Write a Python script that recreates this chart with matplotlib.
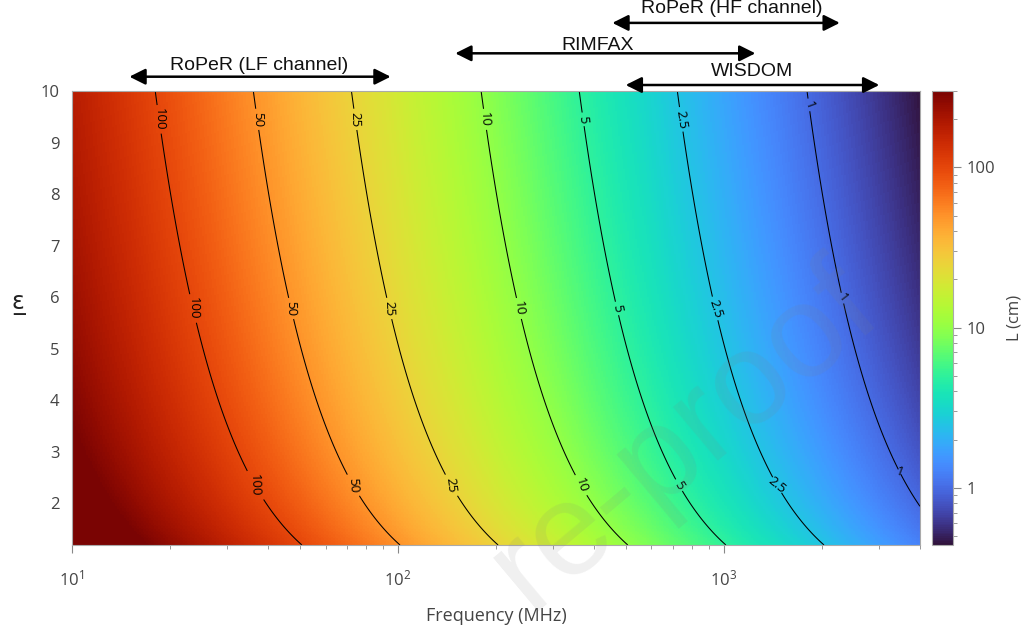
import numpy as np
import matplotlib
matplotlib.use('Agg')
import matplotlib.pyplot as plt
from matplotlib import colors, ticker
from matplotlib.transforms import blended_transform_factory

eps_read = [1.19, 2.31, 4.0, 5.75, 10.0]
f_L100 = [50.8, 36.9, 27.9, 23.5, 18.1]

levels = [1, 2.5, 5, 10, 25, 50, 100]

f_min, f_max = 10, 4000
eps_min, eps_max = 1.19, 10

instruments = ['RoPeR (LF channel)', 'RIMFAX', 'RoPeR (HF channel)', 'WISDOM']
band_lo = [15, 150, 455, 500]
band_hi = [95, 1250, 2270, 3000]
label_f = [37.6, 409, 1056, 1222]

plt.rcParams['font.family'] = ['Open Sans', 'DejaVu Sans']
plt.rcParams['mathtext.default'] = 'regular'
tcol = '#444444'

fig = plt.figure(figsize=(10.29, 6.34), dpi=100)
ax = fig.add_axes([72/1029, 89/634, 848/1029, 454/634])
cax = fig.add_axes([932/1029, 89/634, 21/1029, 454/634])

# L scales as 1/f; eps dependence from a power-law fit of the read points
fit = np.polyfit(np.log(eps_read), np.log(f_L100), 1)
f = np.logspace(np.log10(f_min), np.log10(f_max), 500)
eps = np.linspace(eps_min, eps_max, 300)
F, E = np.meshgrid(f, eps)
L = 100 * np.exp(np.polyval(fit, np.log(E))) / F

norm = colors.LogNorm(vmin=0.44, vmax=300)
mesh = ax.pcolormesh(F, E, L, cmap='turbo', norm=norm, shading='auto', rasterized=True)
cs = ax.contour(F, E, L, levels=levels, colors='black', linewidths=0.75)

k = lambda e: 100 * np.exp(np.polyval(fit, np.log(e)))
pos = []
for lev in levels:
    rows = [9.73, 5.98, 2.61] if lev == 1 else [9.45, 5.78, 2.35]
    for e in rows:
        pos.append((k(e) / lev, e))
ax.clabel(cs, fmt='%g', fontsize=9.5, manual=pos, inline=True, inline_spacing=3)

ax.set_xscale('log')
ax.set_xlim(f_min, f_max)
ax.set_ylim(eps_min, eps_max)
ax.set_yticks(range(2, 11))
ax.tick_params(axis='x', which='major', length=6, color='#888888', labelsize=12, labelcolor=tcol, pad=12)
ax.tick_params(axis='x', which='minor', length=3, color='#888888')
ax.tick_params(axis='y', length=0, labelsize=12, labelcolor=tcol, pad=9)
for s in ax.spines.values():
    s.set_color('#aaaaaa')
    s.set_linewidth(0.8)
ax.set_xlabel('Frequency (MHz)', fontsize=13, color=tcol, labelpad=12)
ax.set_ylabel('ε\u0332', fontsize=17, color='#222222', rotation=0, va='center',
              family=['DejaVu Sans'])
ax.yaxis.set_label_coords(-0.0625, 0.533)

cb = fig.colorbar(mesh, cax=cax)
cb.outline.set_edgecolor('#aaaaaa')
cb.outline.set_linewidth(0.8)
cax.yaxis.set_major_locator(ticker.FixedLocator([1, 10, 100]))
cax.yaxis.set_major_formatter(ticker.FuncFormatter(lambda v, p: f'{v:g}'))
cax.yaxis.set_minor_formatter(ticker.NullFormatter())
cax.tick_params(which='major', length=6, color='#888888', labelsize=12, labelcolor=tcol, pad=4)
cax.tick_params(which='minor', length=3, color='#888888')
cb.set_label('L (cm)', fontsize=12, color=tcol, labelpad=8)

# instrument bands above the plot
trans = blended_transform_factory(ax.transData, ax.transAxes)
arrow_y = [1.0315, 1.083, 1.150, 1.0132]
text_y = [1.057, 1.101, 1.181, 1.042]
for name, lo, hi, tx, ay, ty in zip(instruments, band_lo, band_hi, label_f, arrow_y, text_y):
    ax.annotate('', xy=(hi, ay), xytext=(lo, ay), xycoords=trans, textcoords=trans,
                arrowprops=dict(arrowstyle='<|-|>,head_length=0.6,head_width=0.3',
                                color='black', lw=1.8, mutation_scale=16,
                                shrinkA=0, shrinkB=0),
                annotation_clip=False)
    ax.text(tx, ty, name, transform=trans, ha='center', va='center',
            fontsize=14, family=['Liberation Sans'], color='#111111')

# journal watermark (only the visible part of it)
fig.text(884 / 1029, 1 - 314 / 634, 're-proof', fontsize=95, color='#808080',
         alpha=0.12, rotation=40, ha='right', va='baseline', rotation_mode='anchor',
         family=['Liberation Sans'])

fig.savefig('out.png', dpi=100)
